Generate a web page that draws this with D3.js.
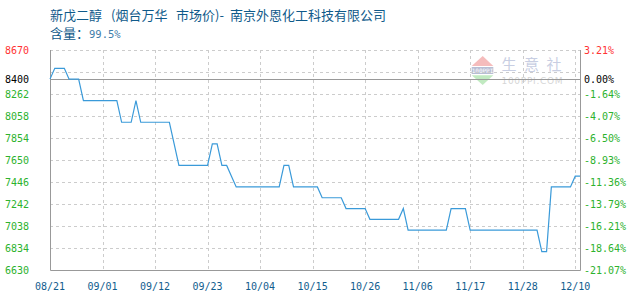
<!DOCTYPE html>
<html>
<head>
<meta charset="utf-8">
<script src="https://cdn.jsdelivr.net/npm/d3@7"></script>
<style>
  body { margin: 0; background: #fff; }
  svg { display: block; }
</style>
</head>
<body>
<svg id="chart" width="630" height="300"></svg>
<script>
// daily prices, one per data point (index based x axis)
const prices = [
  8400,
  8500, 8500, 8500,
  8400, 8400, 8400,
  8200, 8200, 8200, 8200, 8200, 8200, 8200, 8200,
  8000, 8000, 8000,
  8200,
  8000, 8000, 8000, 8000, 8000, 8000, 8000,
  7800,
  7600, 7600, 7600, 7600, 7600, 7600, 7600,
  7800, 7800,
  7600, 7600,
  7500,
  7400, 7400, 7400, 7400, 7400, 7400, 7400, 7400, 7400, 7400,
  7600, 7600,
  7400, 7400, 7400, 7400, 7400, 7400,
  7300, 7300, 7300, 7300, 7300,
  7200, 7200, 7200, 7200, 7200,
  7100, 7100, 7100, 7100, 7100, 7100, 7100,
  7200,
  7000, 7000, 7000, 7000, 7000, 7000, 7000, 7000, 7000,
  7200, 7200, 7200, 7200,
  7000, 7000, 7000, 7000, 7000, 7000, 7000, 7000, 7000, 7000, 7000, 7000, 7000, 7000, 7000,
  6800, 6800,
  7400, 7400, 7400, 7400, 7400,
  7500, 7500
];
const dateLabels = ["08/21", "09/01", "09/12", "09/23", "10/04", "10/15", "10/26", "11/06", "11/17", "11/28", "12/10"];
const labelStep = 11;
const basePrice = 8400;
const gridValues = [8670, 8466, 8262, 8058, 7854, 7650, 7446, 7242, 7038, 6834];
const axisValues = [8670, 8400, 8262, 8058, 7854, 7650, 7446, 7242, 7038, 6834, 6630];

const margin = {top: 50, right: 50, bottom: 30, left: 50};
const width = 630, height = 300;
const svg = d3.select("#chart");

const x = d3.scaleLinear()
    .domain([0, prices.length - 1])
    .range([margin.left, width - margin.right]);
const y = d3.scaleLinear()
    .domain([6630, 8670])
    .range([height - margin.bottom, margin.top]);

const numFont = "'DejaVu Sans Mono', monospace";
const cjkFont = "'Noto Sans CJK SC', sans-serif";

// title, pieces placed like the original spacing
const title = svg.append("text")
    .attr("y", 19.5)
    .attr("font-family", cjkFont).attr("font-size", 13)
    .attr("fill", "#0f5a8a");
title.append("tspan").attr("x", 50).text("新戊二醇");
title.append("tspan").attr("x", 111).text("(烟台万华");
title.append("tspan").attr("x", 176).text("市场价)-");
title.append("tspan").attr("x", 230).text("南京外恩化工科技有限公司");
const sub = svg.append("text")
    .attr("x", 50).attr("y", 37.5)
    .attr("font-family", cjkFont).attr("font-size", 13)
    .attr("fill", "#0f5a8a");
sub.append("tspan").text("含量：");
sub.append("tspan").attr("x", 89).attr("font-family", numFont).attr("font-size", 10.5)
    .attr("fill", "#3f7daa").text("99.5%");

// watermark
const wm = svg.append("g").attr("opacity", 0.6);
wm.append("path").attr("d", "M482.7,56L493.3,66L471.7,66Z").attr("fill", "#f09090");
wm.append("path").attr("d", "M471.7,75.3L493.3,75.3L482.7,85Z").attr("fill", "#99dd99");
wm.append("rect").attr("x", 471.7).attr("y", 67).attr("width", 21.6).attr("height", 7).attr("fill", "#8a94b8");
wm.append("text").attr("x", 482.5).attr("y", 73).attr("text-anchor", "middle")
    .attr("font-family", numFont).attr("font-size", 6).attr("fill", "#fff").text("100PPI");
["生", "意", "社"].forEach((c, i) => {
    wm.append("text").attr("x", 501.5 + i * 22.5).attr("y", 69.5)
        .attr("font-family", cjkFont).attr("font-size", 15).attr("fill", "#a4aed0").text(c);
});
wm.append("text").attr("x", 501.5).attr("y", 83.5).attr("textLength", 61)
    .attr("font-family", "'DejaVu Sans', sans-serif").attr("font-size", 9)
    .attr("fill", "#bbbbbb").text("100PPI.COM");

// grid
svg.append("g")
    .selectAll("line")
    .data(gridValues)
    .join("line")
    .attr("x1", x(0)).attr("x2", x(prices.length - 1))
    .attr("y1", d => Math.round(y(d)) + 0.5).attr("y2", d => Math.round(y(d)) + 0.5)
    .attr("stroke", "#cccccc").attr("stroke-dasharray", "3,3");
svg.append("g")
    .selectAll("line")
    .data(dateLabels.slice(1))
    .join("line")
    .attr("x1", (d, i) => Math.round(x((i + 1) * labelStep)) + 0.5)
    .attr("x2", (d, i) => Math.round(x((i + 1) * labelStep)) + 0.5)
    .attr("y1", y(8670)).attr("y2", y(6630))
    .attr("stroke", "#cccccc").attr("stroke-dasharray", "3,3");

// base line and frame
svg.append("line")
    .attr("x1", x(0)).attr("x2", x(prices.length - 1))
    .attr("y1", Math.round(y(basePrice)) + 0.5).attr("y2", Math.round(y(basePrice)) + 0.5)
    .attr("stroke", "#999");
svg.append("path")
    .attr("d", `M${x(0) + 0.5},${y(8670)}V${y(6630) + 0.5}H${x(prices.length - 1) + 0.5}V${y(8670)}`)
    .attr("fill", "none").attr("stroke", "#999");

// price line
const line = d3.line()
    .x((d, i) => x(i))
    .y(d => y(d));
svg.append("path")
    .datum(prices)
    .attr("fill", "none")
    .attr("stroke", "#3a9ad9")
    .attr("stroke-width", 1.2)
    .attr("d", line);

// left axis labels
const colorFor = v => v > basePrice ? "#ff3333" : v === basePrice ? "#000" : "#2db22d";
svg.append("g")
    .selectAll("text")
    .data(axisValues)
    .join("text")
    .attr("x", 5).attr("y", d => y(d))
    .attr("dy", "0.35em")
    .attr("font-family", numFont).attr("font-size", 10)
    .attr("fill", colorFor)
    .text(d => d);

// right axis labels (change vs base)
svg.append("g")
    .selectAll("text")
    .data(axisValues)
    .join("text")
    .attr("x", 584).attr("y", d => y(d))
    .attr("dy", "0.35em")
    .attr("font-family", numFont).attr("font-size", 10)
    .attr("fill", colorFor)
    .text(d => ((d - basePrice) / basePrice * 100).toFixed(2) + "%");

// x labels
svg.append("g")
    .selectAll("text")
    .data(dateLabels)
    .join("text")
    .attr("x", (d, i) => x(i * labelStep))
    .attr("y", 290)
    .attr("text-anchor", "middle")
    .attr("font-family", numFont).attr("font-size", 10)
    .attr("fill", "#125d8e")
    .text(d => d);
</script>
</body>
</html>
